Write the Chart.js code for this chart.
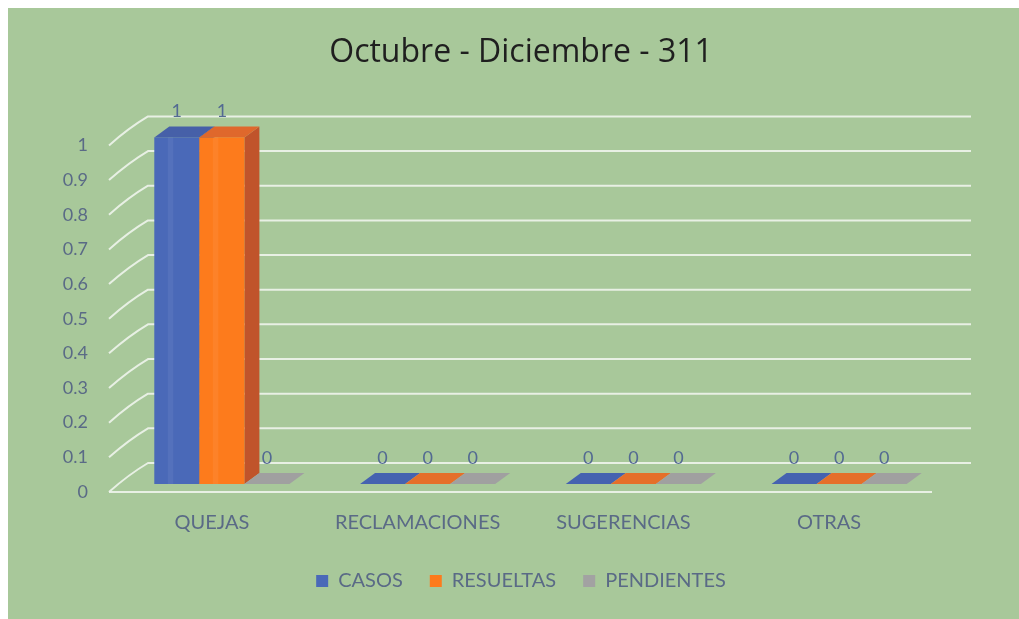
<!DOCTYPE html>
<html><head><meta charset="utf-8">
<script src="https://cdn.jsdelivr.net/npm/chart.js@4/dist/chart.umd.min.js"></script>
<style>
html,body{margin:0;padding:0;background:#ffffff;width:1019px;height:619px;overflow:hidden}
#wrap{position:absolute;left:8px;top:8px;width:1011px;height:611px;background:#a8c89a}
canvas{display:block}
</style></head><body>
<div id="wrap"><canvas id="c" width="1011" height="611"></canvas></div>
<script>
const chartTitle = 'Octubre - Diciembre - 311';
const categories = ['QUEJAS', 'RECLAMACIONES', 'SUGERENCIAS', 'OTRAS'];
const seriesNames = ['CASOS', 'RESUELTAS', 'PENDIENTES'];
const casos = [1, 0, 0, 0];
const resueltas = [1, 0, 0, 0];
const pendientes = [0, 0, 0, 0];
const yTickValues = [0, 0.1, 0.2, 0.3, 0.4, 0.5, 0.6, 0.7, 0.8, 0.9, 1];
const yTickLabels = ['0', '0.1', '0.2', '0.3', '0.4', '0.5', '0.6', '0.7', '0.8', '0.9', '1'];

const FONT = 'Lato, "Open Sans", sans-serif';
const TEXT = '#5a6a86';
const faces = [
  {front: '#4a69b8', top: '#4660a8', side: '#3d5597', flat: '#4562b0'},
  {front: '#fd7b1c', top: '#df682c', side: '#c0542b', flat: '#e56f2a'},
  {front: '#a2a2a2', top: '#a6a6a6', side: '#8f8f8f', flat: '#a0a0a0'}
];
// depth of the back wall and bar depth (styling)
const WALL = {dx: 39, dy: -29};
const BAR = {dx: 15, dy: -11};
const SHIFT = {dx: 10, dy: -8};

function poly(ctx, pts, color) {
  ctx.beginPath();
  ctx.moveTo(pts[0][0], pts[0][1]);
  for (let i = 1; i < pts.length; i++) ctx.lineTo(pts[i][0], pts[i][1]);
  ctx.closePath();
  ctx.fillStyle = color;
  ctx.fill();
}

const fake3d = {
  id: 'fake3d',
  beforeDatasetsDraw(chart) {
    const {ctx, chartArea: a, scales: {y}} = chart;
    ctx.save();
    ctx.strokeStyle = 'rgba(238,244,236,0.9)';
    ctx.lineWidth = 2;
    yTickValues.forEach(v => {
      const py = y.getPixelForValue(v);
      ctx.beginPath();
      ctx.moveTo(a.left, py);
      ctx.quadraticCurveTo(a.left + WALL.dx * 0.5, py + WALL.dy * 0.6, a.left + WALL.dx, py + WALL.dy);
      ctx.lineTo(a.right + WALL.dx, py + WALL.dy);
      ctx.stroke();
    });
    const p0 = y.getPixelForValue(0);
    ctx.beginPath();
    ctx.moveTo(a.left, p0);
    ctx.lineTo(a.right, p0);
    ctx.stroke();
    ctx.restore();
  },
  beforeDatasetDraw() { return false; },
  afterDatasetsDraw(chart) {
    const {ctx} = chart;
    const metas = chart.data.datasets.map((d, i) => chart.getDatasetMeta(i));
    ctx.save();
    const items = [];
    metas.forEach((m, di) => m.data.forEach((el, idx) => {
      items.push({el, di, v: chart.data.datasets[di].data[idx]});
    }));
    items.sort((p, q) => p.el.x - q.el.x);
    items.forEach(({el, di, v}) => {
      const f = faces[di];
      const x0 = el.x - el.width / 2 + SHIFT.dx;
      const x1 = el.x + el.width / 2 + SHIFT.dx;
      const yt = el.y + SHIFT.dy;
      const yb = el.base + SHIFT.dy;
      if (v > 0) {
        poly(ctx, [[x1, yt], [x1 + BAR.dx, yt + BAR.dy], [x1 + BAR.dx, yb + BAR.dy], [x1, yb]], f.side);
        poly(ctx, [[x0, yt], [x1, yt], [x1 + BAR.dx, yt + BAR.dy], [x0 + BAR.dx, yt + BAR.dy]], f.top);
        ctx.fillStyle = f.front;
        ctx.fillRect(x0, yt, x1 - x0, yb - yt);
        ctx.fillStyle = 'rgba(255,255,255,0.06)';
        ctx.fillRect(x0 + (x1 - x0) * 0.3, yt, (x1 - x0) * 0.12, yb - yt);
      } else {
        poly(ctx, [[x0, yb], [x1, yb], [x1 + BAR.dx, yb + BAR.dy], [x0 + BAR.dx, yb + BAR.dy]], f.flat);
      }
    });
    ctx.fillStyle = '#536a92';
    ctx.font = '18px ' + FONT;
    ctx.textAlign = 'center';
    ctx.textBaseline = 'middle';
    items.forEach(({el, v}) => {
      const cx = el.x + SHIFT.dx;
      const yt = el.y + SHIFT.dy + BAR.dy;
      ctx.fillText(String(v), cx, yt - 15);
    });
    ctx.restore();
  }
};

const seriesData = [casos, resueltas, pendientes];
new Chart(document.getElementById('c'), {
  type: 'bar',
  data: {
    labels: categories,
    datasets: seriesNames.map((n, i) => ({
      label: n,
      data: seriesData[i],
      backgroundColor: faces[i].front,
      categoryPercentage: 0.657,
      barPercentage: 1
    }))
  },
  options: {
    responsive: false,
    devicePixelRatio: 1,
    animation: false,
    events: [],
    layout: {padding: {left: 15, right: 0, top: 0, bottom: 18}},
    plugins: {
      title: {
        display: true, text: chartTitle, color: '#1f1f1f',
        font: {family: '"Open Sans", Lato, sans-serif', size: 32, weight: 'normal'},
        padding: {top: 26, bottom: 73}
      },
      legend: {
        position: 'bottom',
        labels: {boxWidth: 12, boxHeight: 12, padding: 27, color: TEXT,
          font: {family: FONT, size: 20}}
      },
      tooltip: {enabled: false}
    },
    scales: {
      x: {
        grid: {display: false, drawTicks: false},
        border: {display: false},
        ticks: {color: TEXT, padding: 19, font: {family: FONT, size: 20}, maxRotation: 0},
        afterFit(s) { s.height = 52; }
      },
      y: {
        min: 0, max: 1,
        grid: {display: false, drawTicks: false},
        border: {display: false},
        afterBuildTicks(s) { s.ticks = yTickValues.map(v => ({value: v})); },
        ticks: {color: TEXT, padding: 21, font: {family: FONT, size: 18},
          callback: (v, i) => yTickLabels[i]},
        afterFit(s) { s.width = 86; }
      },
      yR: {
        position: 'right',
        display: true,
        grid: {display: false, drawTicks: false},
        border: {display: false},
        ticks: {display: false},
        afterFit(s) { s.width = 87; }
      }
    }
  },
  plugins: [fake3d]
});
</script>
</body></html>
